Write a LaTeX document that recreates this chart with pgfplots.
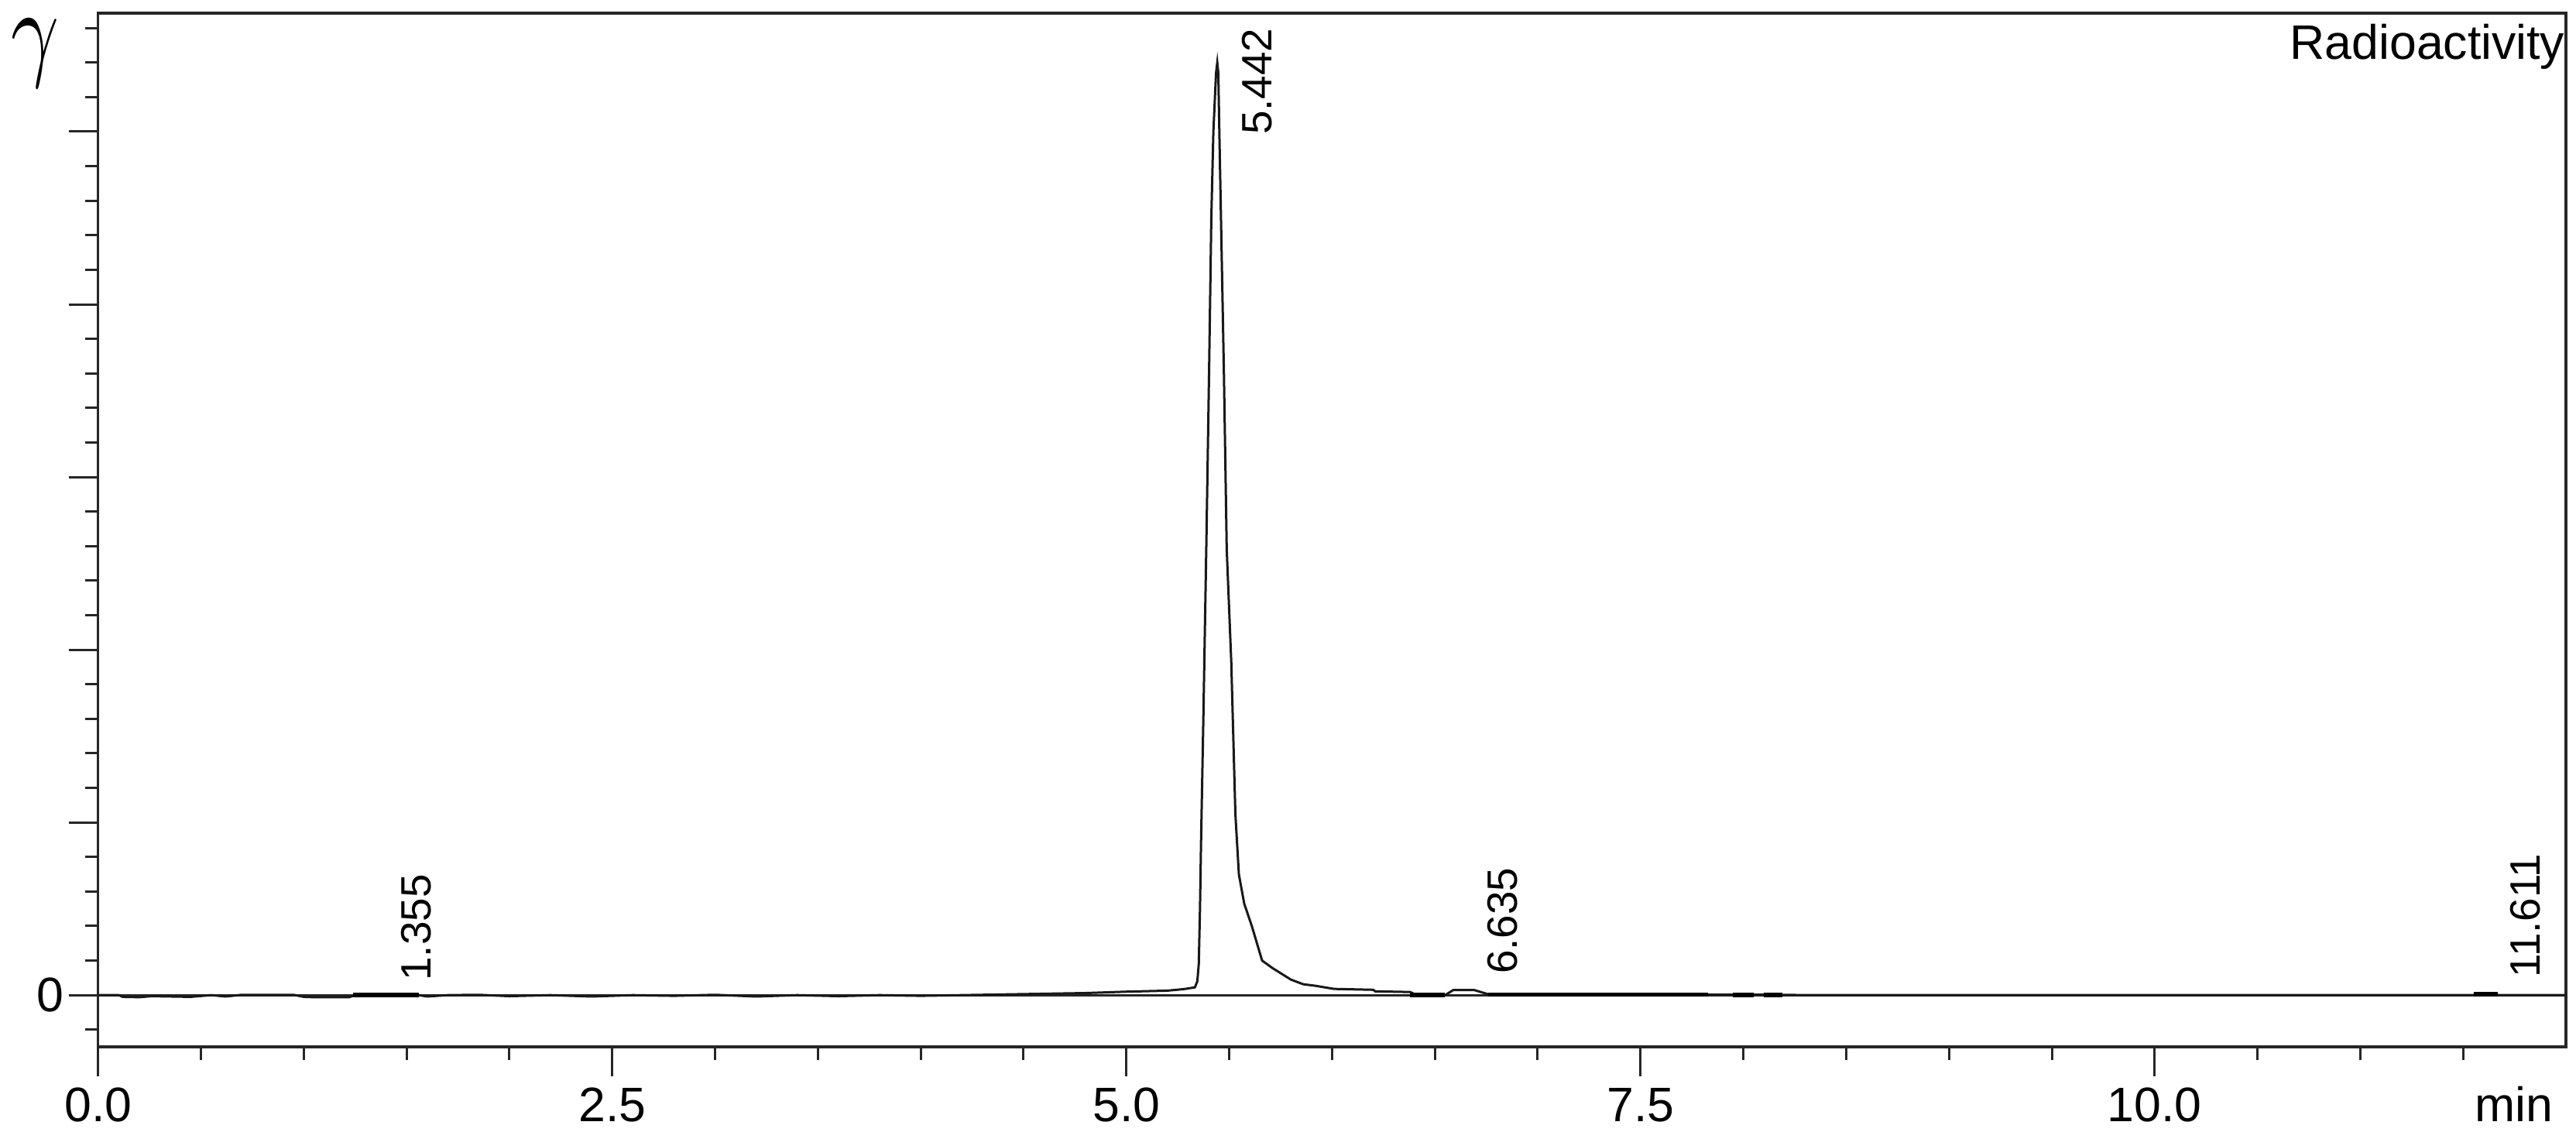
\documentclass[border=0pt]{standalone}
\usepackage{fontspec}
\setmainfont{Liberation Sans}
\usepackage{graphicx}
\usepackage{pgfplots}
\pgfplotsset{compat=1.18}
\begin{document}
\begin{tikzpicture}
\useasboundingbox (-12.67mm,-11.8mm) rectangle (320.0mm,135.2mm);
\begin{axis}[
  at={(0,0)}, anchor=south west,
  scale only axis, width=318.7mm, height=133.5mm,
  xmin=0, xmax=12, ymin=-0.300, ymax=5.686,
  clip=false,
  axis line style={line width=0.33mm, black!85},
  tick style={line width=0.3mm, black!85},
  tick align=outside,
  xtick pos=bottom, ytick pos=left,
  major tick length=3.8mm, minor tick length=1.7mm,
  xtick={0,2.5,5,7.5,10},
  xticklabels={0.0,2.5,5.0,7.5,10.0},
  minor xtick={0.5,1,1.5,2,3,3.5,4,4.5,5.5,6,6.5,7,8,8.5,9,9.5,10.5,11,11.5},
  ytick={0,1,2,3,4,5},
  yticklabels={0,,,,,},
  minor ytick={-0.2,0.2,0.4,0.6,0.8,1.2,1.4,1.6,1.8,2.2,2.4,2.6,2.8,3.2,3.4,3.6,3.8,4.2,4.4,4.6,4.8,5.2,5.4,5.6},
  /pgf/number format/assume math mode=true,
  ticklabel style={font=\fontsize{17.8pt}{20pt}\selectfont, inner sep=0pt},
  xticklabel style={anchor=base, yshift=-5.8mm},
  yticklabel style={anchor=east, xshift=-0.6mm},
  xlabel={min},
  xlabel style={at={(rel axis cs:1,0)}, anchor=base east, xshift=-1.6mm, yshift=-9.6mm, inner sep=0pt, font=\fontsize{17.8pt}{20pt}\selectfont},
]
% zero line
\addplot[black!85, line width=0.28mm] coordinates {(0,0) (12,0)};
% chromatogram trace
\addplot[black!90, line width=0.3mm] coordinates {
(0.00,0.000) (0.10,0.000) (0.12,-0.010) (0.20,-0.012) (0.26,-0.006) (0.45,-0.010)
(0.55,0.000) (0.62,-0.008) (0.70,0.002) (0.95,0.002) (1.00,-0.010) (1.05,-0.012)
(1.22,-0.012) (1.25,0.000) (1.56,0.000) (1.60,-0.008) (1.70,0.000) (1.85,0.002)
(2.00,-0.006) (2.20,0.000) (2.40,-0.008) (2.60,0.000) (2.80,-0.004) (3.00,0.002)
(3.20,-0.008) (3.40,0.000) (3.60,-0.006) (3.80,0.000) (4.00,-0.004) (4.20,0.000)
(4.50,0.006) (4.80,0.012) (5.00,0.020) (5.20,0.026) (5.28,0.035) (5.333,0.045)
(5.345,0.08) (5.352,0.18) (5.358,0.50) (5.363,0.88) (5.374,1.58) (5.389,2.62)
(5.402,3.60) (5.413,4.50) (5.423,5.00) (5.436,5.34) (5.442,5.40) (5.447,5.34)
(5.452,5.00) (5.460,4.50) (5.474,3.62) (5.488,2.58) (5.510,1.93) (5.530,1.05)
(5.547,0.70) (5.573,0.53) (5.610,0.40) (5.660,0.20) (5.710,0.157) (5.800,0.09)
(5.860,0.063) (5.920,0.054) (6.010,0.036) (6.200,0.031) (6.210,0.022) (6.380,0.018)
(6.410,0.000) (6.550,0.000) (6.590,0.030) (6.690,0.030) (6.760,0.005) (7.000,0.004)
(7.500,0.004) (7.830,0.003) (8.200,0.002) (8.300,0.000) (9.000,0.000) (10.000,0.000)
(11.000,0.000) (11.550,0.000) (11.565,0.010) (11.655,0.010) (11.670,0.000) (12.000,0.000)
};
% integration baselines (thicker)
\addplot[black, line width=0.55mm] coordinates {(1.24,0) (1.56,0)};
\addplot[black, line width=0.55mm] coordinates {(6.38,0) (6.55,0)};
\addplot[black, line width=0.55mm] coordinates {(6.76,0.003) (7.83,0.003)};
\addplot[black, line width=0.55mm] coordinates {(7.95,0.002) (8.05,0.002)};
\addplot[black, line width=0.55mm] coordinates {(8.10,0.002) (8.19,0.002)};
\addplot[black, line width=0.55mm] coordinates {(11.55,0.005) (11.67,0.005)};
% retention time labels
\begin{scope}[every node/.style={rotate=90, anchor=base west, inner sep=0pt, font=\fontsize{15.6pt}{18pt}\selectfont}]
\node at (axis cs:1.619,0.08) {1.355};
\node at (axis cs:5.706,4.98) {5.442};
\node at (axis cs:6.899,0.12) {6.635};
\node at (axis cs:11.875,0.10) {11.611};
\end{scope}
\end{axis}
\node[anchor=base east, inner sep=0pt, font=\fontsize{17.8pt}{20pt}\selectfont] at (318.6mm,127.5mm) {Radioactivity};
\node[anchor=center, inner sep=0pt] at (-8.1mm,128.3mm) {\resizebox*{6.2mm}{8.8mm}{$\gamma$}};
\end{tikzpicture}
\end{document}
